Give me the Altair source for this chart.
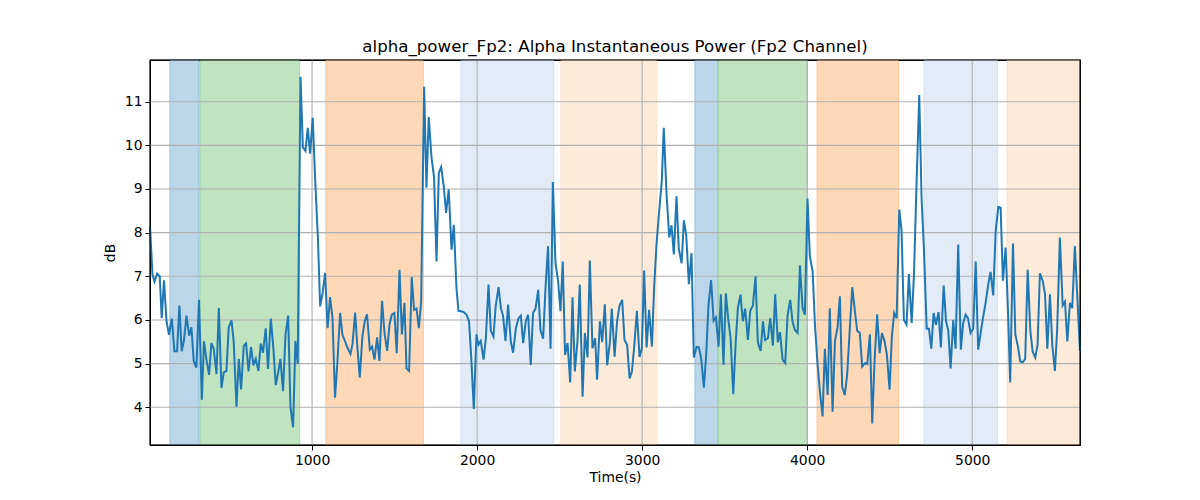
import altair as alt
import pandas as pd

# ---- data ----
times = [18, 33, 45, 61, 77, 89, 103, 118, 133, 150, 166, 182, 196, 210, 224, 239, 255, 269, 283, 299,
         315, 332, 345, 360, 376, 390, 404, 421, 435, 451, 465, 481, 495, 512, 525, 542, 556, 570, 586, 600,
         615, 630, 645, 659, 675, 689, 703, 719, 733, 750, 764, 780, 794, 808, 824, 839, 855, 869, 885, 899,
         913, 930, 944, 960, 974, 988, 1004, 1019, 1035, 1049, 1064, 1079, 1094, 1109, 1124, 1139, 1153, 1170,
         1184, 1200, 1216, 1233, 1245, 1261, 1275, 1289, 1305, 1319, 1333, 1350, 1364, 1378, 1394, 1408, 1424,
         1439, 1455, 1469, 1483, 1499, 1513, 1530, 1544, 1560, 1572, 1588, 1604, 1618, 1633, 1647, 1661, 1679,
         1693, 1707, 1724, 1739, 1754, 1768, 1782, 1798, 1812, 1828, 1845, 1859, 1875, 1887, 1903, 1919, 1936,
         1951, 1964, 1980, 1996, 2008, 2022, 2039, 2053, 2069, 2083, 2099, 2113, 2130, 2144, 2157, 2172, 2188,
         2204, 2218, 2235, 2251, 2265, 2279, 2295, 2309, 2325, 2339, 2354, 2370, 2384, 2400, 2415, 2430, 2445,
         2459, 2475, 2491, 2505, 2519, 2533, 2548, 2564, 2578, 2592, 2608, 2622, 2639, 2653, 2669, 2683, 2699,
         2715, 2727, 2744, 2758, 2774, 2788, 2804, 2816, 2833, 2848, 2863, 2879, 2893, 2909, 2924, 2938, 2952,
         2968, 2984, 2998, 3012, 3027, 3042, 3059, 3073, 3087, 3103, 3119, 3131, 3148, 3164, 3178, 3192, 3208,
         3222, 3239, 3253, 3267, 3283, 3299, 3313, 3330, 3344, 3358, 3374, 3388, 3402, 3418, 3433, 3447, 3463,
         3477, 3493, 3507, 3521, 3536, 3552, 3566, 3580, 3596, 3610, 3624, 3641, 3655, 3671, 3687, 3701, 3718,
         3732, 3745, 3762, 3776, 3792, 3806, 3822, 3835, 3851, 3867, 3881, 3897, 3911, 3925, 3942, 3956, 3972,
         3986, 4002, 4016, 4033, 4047, 4063, 4077, 4093, 4107, 4124, 4137, 4154, 4168, 4184, 4198, 4212, 4228,
         4242, 4259, 4273, 4289, 4303, 4319, 4333, 4350, 4364, 4380, 4394, 4408, 4424, 4439, 4453, 4469, 4483,
         4499, 4513, 4527, 4542, 4558, 4572, 4586, 4602, 4616, 4633, 4647, 4663, 4679, 4693, 4707, 4724, 4738,
         4752, 4766, 4780, 4796, 4810, 4827, 4841, 4855, 4869, 4885, 4899, 4915, 4931, 4945, 4960, 4974, 4990,
         5006, 5021, 5036, 5051, 5065, 5081, 5097, 5111, 5127, 5142, 5158, 5172, 5186, 5202, 5216, 5230, 5247,
         5261, 5277, 5291, 5307, 5321, 5336, 5352, 5366, 5382, 5396, 5410, 5427, 5441, 5455, 5471, 5485, 5501,
         5515, 5531, 5548, 5562, 5576, 5592, 5606, 5622, 5636, 5653]

values = [8.15, 7.04, 6.88, 7.06, 7.00, 6.04, 6.91, 5.97, 5.66, 6.03,
          5.28, 5.28, 6.33, 5.28, 5.54, 6.10, 5.64, 5.83, 5.06, 4.91,
          6.46, 4.17, 5.51, 5.09, 4.74, 5.47, 5.35, 4.76, 6.27, 4.44,
          4.80, 4.83, 5.83, 5.99, 5.51, 4.01, 5.11, 4.41, 5.41, 5.46,
          4.82, 5.38, 4.96, 5.11, 4.83, 5.46, 5.25, 5.81, 4.88, 6.03,
          5.43, 4.51, 4.78, 5.11, 4.37, 5.66, 6.10, 4.01, 3.54, 5.52,
          4.99, 11.57, 9.96, 9.87, 10.40, 9.81, 10.63,
          9.2, 7.9, 6.31, 6.62, 7.08, 5.81, 6.52, 6.04, 4.22, 5.0, 6.16, 5.66, 5.51, 5.35, 5.22, 5.45,
          6.17, 5.35, 4.68, 5.62, 5.97, 6.13, 5.32, 5.39, 5.09, 5.60, 5.06, 6.44, 5.70, 5.29, 5.89, 6.12,
          6.16, 5.24, 7.15, 5.67, 6.39, 4.89, 4.83, 6.98, 6.23, 6.26, 5.81, 6.42, 11.34, 9.03, 10.65, 9.71,
          9.27, 7.34, 9.37, 9.50, 9.06, 8.45, 8.99, 7.61, 8.18, 6.73, 6.21, 6.20, 6.18, 6.12, 5.97, 5.16,
          3.96, 5.67, 5.43, 5.52, 5.09, 5.58, 6.81, 5.75, 5.62, 6.33, 6.75, 6.27,
          6.1, 5.52, 6.35, 5.51, 5.25, 5.81, 6.04, 6.10, 5.47, 5.97, 6.12, 4.97, 6.16, 6.26, 6.69, 5.77,
          5.57, 6.77, 7.69, 5.34, 9.16, 7.30, 6.88, 6.20, 7.34, 5.20, 5.47, 4.57, 6.52, 4.82, 5.51, 6.81,
          4.24, 5.70, 5.14, 7.36, 5.35, 5.58, 4.63, 5.97, 5.49, 6.36, 4.96, 5.47, 6.26, 5.16, 5.97, 6.33,
          6.46, 5.54, 5.43, 4.66, 4.82, 5.39, 6.21, 5.15, 5.35, 7.13, 5.37, 6.23, 5.39, 6.77, 7.73, 8.49,
          9.18, 10.40, 8.87, 7.89, 8.17, 7.50, 8.83, 7.63, 7.30, 8.28, 7.95, 6.82, 7.53, 5.14,
          5.38, 5.37, 5.11, 4.45, 5.20, 6.35, 6.91, 5.98, 6.06, 5.39, 6.59, 4.97, 6.61, 6.04, 5.58, 4.30,
          5.43, 6.27, 6.58, 5.97, 6.26, 5.54, 6.21, 6.33, 7.00, 5.49, 5.29, 5.97, 5.54, 5.58, 6.04, 5.41,
          6.59, 5.49, 5.72, 5.09, 5.01, 6.10, 6.46, 5.97, 5.77, 5.70, 7.25, 6.27, 6.12, 8.78, 7.46, 7.11,
          5.89, 4.97, 4.36, 3.79, 5.34, 4.28, 6.27, 3.90, 5.51, 5.83, 6.54, 4.47, 4.28, 4.74, 5.85, 6.75,
          6.20, 5.75, 5.70, 4.93, 5.01, 4.99, 5.67, 3.63, 5.05,
          6.13, 5.24, 5.70, 5.51, 5.20, 4.40, 5.62, 6.16, 6.04, 8.53, 8.03, 6.00, 5.89, 7.05, 5.93, 7.04,
          9.18, 11.15, 8.80, 7.65, 5.80, 5.80, 5.34, 6.16, 5.89, 6.18, 5.37, 6.79, 5.98, 5.75, 4.89, 6.00,
          5.34, 7.73, 5.32, 5.93, 6.12, 6.04, 5.70, 5.80, 7.34, 5.32, 5.70, 6.04, 6.39, 6.81, 7.10, 6.56,
          8.03, 8.59, 8.57, 6.90, 7.66, 6.27, 4.57, 7.75, 5.67, 5.39, 5.05, 5.03, 5.11, 7.15, 5.75, 5.28,
          5.14, 5.43, 7.07, 6.90, 6.59, 5.34, 6.59, 5.43, 4.83, 5.81, 7.89, 6.33, 6.42, 5.51, 6.39, 6.27,
          7.69, 6.58, 5.29]

span_start = [138, 320, 1083, 1901, 2507, 3319, 3463, 4059, 4707, 5210]
span_end = [315, 925, 1675, 2465, 3089, 3459, 4002, 4554, 5154, 5653]
span_fill = ["#bbd6e9", "#c0e3c0", "#ffd9b7", "#e3ebf6", "#feead8",
             "#bbd6e9", "#c0e3c0", "#ffd9b7", "#e3ebf6", "#feead8"]
span_edge = ["#1f77b4", "#2ca02c", "#ff7f0e", "#1f77b4", "#ff7f0e",
             "#1f77b4", "#2ca02c", "#ff7f0e", "#1f77b4", "#ff7f0e"]
span_edge_alpha = [0.3, 0.3, 0.3, 0.12, 0.12, 0.3, 0.3, 0.3, 0.12, 0.12]

x_ticks = [1000, 2000, 3000, 4000, 5000]
y_ticks = [4, 5, 6, 7, 8, 9, 10, 11]

x_domain = [18, 5653]
y_domain = [3.135, 11.955]

FONT = "DejaVu Sans"
W, H = 930, 385

n = min(len(times), len(values))
line_df = pd.DataFrame({"t": times[:n], "v": values[:n]})
span_df = pd.DataFrame({"t": span_start, "end": span_end, "fill": span_fill,
                        "edge": span_edge, "ea": span_edge_alpha})
xg_df = pd.DataFrame({"t": x_ticks})
yg_df = pd.DataFrame({"v": y_ticks})
frame_df = pd.DataFrame({"t": [x_domain[0]], "end": [x_domain[1]]})

xs = alt.Scale(domain=x_domain, nice=False, zero=False)
ys = alt.Scale(domain=y_domain, nice=False, zero=False)

common = dict(grid=False, tickSize=5, labelPadding=3,
              tickColor="black", domainColor="black", labelColor="black",
              titleColor="black", labelFontSize=13.9, titleFontSize=13.9,
              labelFont=FONT, titleFont=FONT, titleFontWeight="normal", format="d")
x_axis = alt.Axis(values=x_ticks, title="Time(s)", titlePadding=4, **common)
y_axis = alt.Axis(values=y_ticks, title="dB", titlePadding=7, **common)

spans = alt.Chart(span_df).mark_rect(strokeWidth=1).encode(
    x=alt.X("t:Q", scale=xs, axis=x_axis),
    x2="end:Q",
    y=alt.value(0),
    y2=alt.value(H),
    fill=alt.Fill("fill:N", scale=None, legend=None),
    stroke=alt.Stroke("edge:N", scale=None, legend=None),
    strokeOpacity=alt.StrokeOpacity("ea:Q", scale=None, legend=None),
)

xgrid = alt.Chart(xg_df).mark_rule(color="#b0b0b0", strokeWidth=1.1).encode(
    x=alt.X("t:Q", scale=xs, axis=x_axis)
)
ygrid = alt.Chart(yg_df).mark_rule(color="#b0b0b0", strokeWidth=1.1).encode(
    y=alt.Y("v:Q", scale=ys, axis=y_axis)
)

line = alt.Chart(line_df).mark_line(color="#1f77b4", strokeWidth=2).encode(
    x=alt.X("t:Q", scale=xs, axis=x_axis),
    y=alt.Y("v:Q", scale=ys, axis=y_axis),
)

frame = alt.Chart(frame_df).mark_rect(fillOpacity=0, stroke="black", strokeWidth=1.1).encode(
    x=alt.X("t:Q", scale=xs, axis=x_axis),
    x2="end:Q",
    y=alt.value(0),
    y2=alt.value(H),
)

chart = alt.layer(spans, xgrid, ygrid, line, frame).properties(
    width=W,
    height=H,
    title=alt.TitleParams("alpha_power_Fp2: Alpha Instantaneous Power (Fp2 Channel)",
                          font=FONT, fontSize=16.67, fontWeight="normal", color="black",
                          anchor="middle", baseline="alphabetic", offset=-9),
    autosize=alt.AutoSizeParams(type="none"),
    padding={"left": 150, "top": 60, "right": 120, "bottom": 55},
    background="white",
).configure_view(stroke="black", strokeWidth=1.1)

chart.save("out.html", embed_options={"renderer": "svg", "actions": False})
